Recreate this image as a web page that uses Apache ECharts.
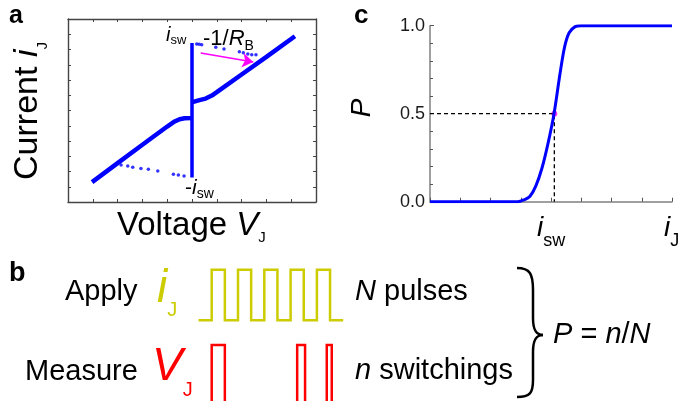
<!DOCTYPE html>
<html>
<head>
<meta charset="utf-8">
<script src="https://cdn.jsdelivr.net/npm/echarts@6/dist/echarts.min.js"></script>
<style>
html, body { margin: 0; padding: 0; background: #fff; }
#chart { width: 679px; height: 401px; }
</style>
</head>
<body>
<div id="chart"></div>
<script>
// ---- panel a : junction current vs voltage ----
const ivLower = [[0.97, 1.3], [2, 2.55], [3, 3.75], [4, 4.95], [4.3, 5.28], [4.5, 5.43], [4.7, 5.49], [4.98, 5.5]];
const ivJump = [[5.0, 1.6], [5.0, 10.42]];
const ivUpper = [[5.02, 6.55], [5.3, 6.68], [5.55, 6.78], [5.8, 6.98], [6.0, 7.2], [7, 8.36], [8, 9.52], [9.15, 10.87]];
const loadLower = [[2.14, 2.43], [2.41, 2.36], [2.61, 2.28], [2.94, 2.19], [3.24, 2.15], [3.62, 2.03], [4.25, 1.82], [4.45, 1.77], [4.68, 1.7]];
const loadUpper = [[5.19, 10.36], [5.29, 10.34], [5.39, 10.31], [5.96, 10.14], [6.29, 10.03], [6.91, 9.86], [7.07, 9.79], [7.25, 9.7], [7.41, 9.66], [7.58, 9.66]];
const arrowFrom = [5.35, 9.77];
const arrowTo = [7.47, 9.18];

// ---- panel c : switching probability ----
const pCurrent = [0, 2.9, 3.1, 3.3, 3.5, 3.7, 3.9, 4.1, 4.3, 4.45, 4.6, 4.8, 5.0, 8];
const pProb = [0, 0, 0.01, 0.03, 0.09, 0.19, 0.33, 0.5, 0.73, 0.88, 0.96, 0.995, 1, 1];
const iswPoint = [4.11, 0.5];
const pTicks = ['0.0', '0.5', '1.0'];

// ---- panel b : pulse sequences ----
const applyLevels = [[-1, 0], [0, 1], [1, 0], [2, 1], [3, 0], [4, 1], [5, 0], [6, 1], [7, 0], [8, 1], [9, 0], [10, 0]];
const switchPulses = [[0, 1], [6.5, 7.1], [8.75, 9.13]];
const switchTop = -0.49;

const FONT = '"Liberation Sans", Arial, Helvetica, sans-serif';
const BLUE = '#0000ff';

const chart = echarts.init(document.getElementById('chart'));

// step path for the applied pulses
const applyPath = [applyLevels[0]];
for (let i = 1; i < applyLevels.length; i++) {
  applyPath.push([applyLevels[i][0], applyLevels[i - 1][1]]);
  applyPath.push(applyLevels[i]);
}
// measured switching pulses, baseline is below the visible area
const switchPath = [];
switchPulses.forEach(p => {
  switchPath.push([p[0], -3], [p[0], switchTop], [p[1], switchTop], [p[1], -3]);
});

function frameAxis(grid, pos, min, max, interval) {
  return {
    gridIndex: grid, type: 'value', position: pos, min: min, max: max, interval: interval,
    axisLine: { onZero: false, lineStyle: { color: '#444', width: 1.4 } },
    axisTick: { inside: true, length: 3, lineStyle: { color: '#444', width: 1 } },
    axisLabel: { show: false },
    splitLine: { show: false }
  };
}

function text(x, y, str, rich, extra) {
  const el = {
    type: 'text', x: x, y: y, silent: true,
    style: { text: str, rich: rich, fontFamily: FONT, fill: '#000', align: 'left', verticalAlign: 'top' }
  };
  if (extra) {
    if (extra.rotation) el.rotation = extra.rotation;
    if (extra.style) Object.assign(el.style, extra.style);
  }
  return el;
}
// main token
function tok(size, italic, color, bold) {
  return { fontSize: size, lineHeight: size, fontStyle: italic ? 'italic' : 'normal', fontWeight: bold ? 'bold' : 'normal',
           fontFamily: FONT, fill: color || '#000', verticalAlign: 'top' };
}
// subscript token, its box height pushes it below the main line
function sub(size, h, color) {
  return { fontSize: size, height: h, fontFamily: FONT, fill: color || '#000', verticalAlign: 'top' };
}

function bez(x1, y1, c1x, c1y, c2x, c2y, x2, y2) {
  return { type: 'bezierCurve', silent: true,
    shape: { x1: x1, y1: y1, cpx1: c1x, cpy1: c1y, cpx2: c2x, cpy2: c2y, x2: x2, y2: y2 },
    style: { fill: null, stroke: '#000', lineWidth: 2.5 } };
}
function seg(x1, y1, x2, y2) {
  return { type: 'line', silent: true, shape: { x1: x1, y1: y1, x2: x2, y2: y2 }, style: { stroke: '#000', lineWidth: 2.5 } };
}

const graphics = [
  // panel letters
  text(9, 4, '{a|a}', { a: tok(25, false, '#000', true) }),
  text(354, 3, '{a|c}', { a: tok(26, false, '#000', true) }),
  text(9, 260, '{a|b}', { a: tok(27, false, '#000', true) }),
  // panel a axis names
  text(117, 209, '{m|Voltage }{i|V}{s|J}', { m: tok(33), i: tok(33, true), s: sub(15, 57.5) }),
  text(11, 111, '{m|Current }{i|i}{s|J}', { m: tok(34), i: tok(34, true), s: sub(15, 64) },
       { rotation: Math.PI / 2, style: { align: 'center' } }),
  // panel a annotations
  text(166, 25, '{i|i}{s|sw}', { i: tok(20, true), s: sub(13, 31) }),
  text(203, 28, '{m|-1/}{i|R}{s|B}', { m: tok(22), i: tok(22, true), s: sub(14, 36) }),
  text(185, 178, '{m|-}{i|i}{s|sw}', { m: tok(21), i: tok(21, true), s: sub(14, 32) }),
  // panel c axis names
  text(362, 108, '{i|P}', { i: tok(28, true) }, { rotation: Math.PI / 2, style: { align: 'center', verticalAlign: 'middle' } }),
  text(537, 214, '{i|i}{s|sw}', { i: tok(28, true), s: sub(18, 55) }),
  text(664, 214, '{i|i}{s|J}', { i: tok(28, true), s: sub(18, 55) }),
  // panel b texts
  text(65, 277.5, '{m|Apply}', { m: tok(29) }),
  text(157, 266, '{i|i}{s|J}', { i: tok(46, true, '#cccc00'), s: sub(20, 88, '#cccc00') }),
  text(355, 277.5, '{i|N}{m| pulses}', { i: tok(29, true), m: tok(29) }),
  text(25, 357.5, '{m|Measure}', { m: tok(29) }),
  text(152, 344, '{i|V}{s|J}', { i: tok(46, true, '#ff0000'), s: sub(20, 92, '#ff0000') }),
  text(355, 356, '{i|n}{m| switchings}', { i: tok(29, true), m: tok(29) }),
  text(553, 320.5, '{i|P}{m| = }{i|n}{m|/}{i|N}', { i: tok(29, true), m: tok(29) }),
  // curly brace
  bez(517, 268, 530, 268, 533, 274, 533, 290),
  seg(533, 290, 533, 318),
  bez(533, 318, 533, 330, 536, 335, 543, 335),
  bez(543, 335, 536, 335, 533, 340, 533, 352),
  seg(533, 352, 533, 380),
  bez(533, 380, 533, 393, 530, 397, 517, 397)
];

const option = {
  animation: false,
  backgroundColor: '#fff',
  grid: [
    { left: 68, top: 19, width: 248, height: 183 },
    { left: 430, top: 25.7, width: 242, height: 176 },
    { left: 185.4, top: 264.7, width: 184.1, height: 143.9 }
  ],
  xAxis: [
    frameAxis(0, 'bottom', 0, 10, 1),
    frameAxis(0, 'top', 0, 10, 1),
    {
      gridIndex: 1, type: 'value', min: 0, max: 8, interval: 1,
      axisLine: { onZero: false, lineStyle: { color: '#808080', width: 1.5 } },
      axisTick: { inside: true, length: 4, lineStyle: { color: '#555' } },
      axisLabel: { show: false }, splitLine: { show: false }
    },
    { gridIndex: 2, type: 'value', min: -2, max: 12, show: false }
  ],
  yAxis: [
    frameAxis(0, 'left', 0, 12, 1),
    frameAxis(0, 'right', 0, 12, 1),
    {
      gridIndex: 1, type: 'value', min: 0, max: 1, interval: 0.5,
      axisLine: { onZero: false, lineStyle: { color: '#808080', width: 1.5 } },
      axisTick: { inside: true, length: 4, lineStyle: { color: '#555' } },
      minorTick: { show: true, splitNumber: 5, length: 3, lineStyle: { color: '#555' } },
      axisLabel: { margin: 5, fontSize: 18, fontFamily: FONT, color: '#1a1a1a', formatter: v => pTicks[Math.round(v / 0.5)] },
      splitLine: { show: false }
    },
    {
      gridIndex: 1, type: 'value', min: 0, max: 1, interval: 0.5,
      axisLine: { show: false },
      axisTick: { inside: false, length: 3, lineStyle: { color: '#555' } },
      axisLabel: { show: false }, splitLine: { show: false }
    },
    { gridIndex: 2, type: 'value', min: -1.6, max: 1.1, show: false }
  ],
  series: [
    { type: 'line', xAxisIndex: 0, yAxisIndex: 0, data: ivLower, symbol: 'none', lineStyle: { color: BLUE, width: 4.5 } },
    { type: 'line', xAxisIndex: 0, yAxisIndex: 0, data: ivUpper, symbol: 'none', lineStyle: { color: BLUE, width: 4.5 } },
    { type: 'line', xAxisIndex: 0, yAxisIndex: 0, data: ivJump, symbol: 'none', lineStyle: { color: BLUE, width: 3.5 } },
    { type: 'scatter', xAxisIndex: 0, yAxisIndex: 0, data: loadLower, symbolSize: 3.5, itemStyle: { color: BLUE } },
    {
      type: 'scatter', xAxisIndex: 0, yAxisIndex: 0, data: loadUpper, symbolSize: 3.5, itemStyle: { color: BLUE },
      markLine: {
        silent: true, symbol: ['none', 'arrow'], symbolSize: 11, label: { show: false },
        lineStyle: { color: '#ff00ff', width: 1.6, type: 'solid' },
        data: [[{ coord: arrowFrom }, { coord: arrowTo }]]
      }
    },
    {
      type: 'line', xAxisIndex: 2, yAxisIndex: 2, symbol: 'none',
      data: [[0, iswPoint[1]], iswPoint, [iswPoint[0], 0]],
      lineStyle: { color: '#000', width: 1.3, type: [4, 3] }
    },
    {
      type: 'line', xAxisIndex: 2, yAxisIndex: 2, symbol: 'none', smooth: 0.3,
      data: pCurrent.map((c, i) => [c, pProb[i]]),
      lineStyle: { color: BLUE, width: 3 }
    },
    { type: 'scatter', xAxisIndex: 2, yAxisIndex: 2, data: [iswPoint], symbolSize: 6, itemStyle: { color: '#ff00ff' } },
    { type: 'line', xAxisIndex: 3, yAxisIndex: 4, data: applyPath, symbol: 'none', lineStyle: { color: '#cccc00', width: 2.5, join: 'miter' } },
    { type: 'line', xAxisIndex: 3, yAxisIndex: 4, data: switchPath, symbol: 'none', lineStyle: { color: '#ff0000', width: 2.5, join: 'miter' } }
  ],
  graphic: graphics
};

chart.setOption(option);
</script>
</body>
</html>
